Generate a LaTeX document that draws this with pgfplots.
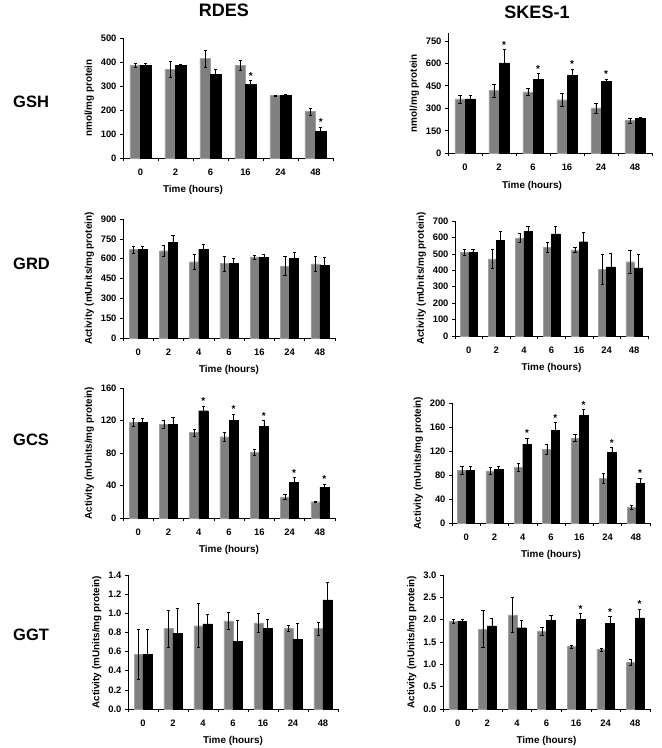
\documentclass[border=0pt]{standalone}
\usepackage{fontspec}
\setmainfont{Liberation Sans}
\usepackage{pgfplots}
\pgfplotsset{compat=1.18}
\definecolor{bargray}{RGB}{128,128,128}

\pgfplotsset{
  panel/.style={
    scale only axis, anchor=south west,
    ybar, ymin=0, xmin=-0.5,
    axis lines=left, axis line style={-, line width=0.7pt},
    tick align=outside, major tick length=3pt,
    tick style={black, line width=0.6pt},
    xticklabels={},
    extra x tick style={major tick length=0pt},
    tick label style={font=\bfseries\fontsize{9.4}{10}\selectfont},
    x tick label style={yshift=-7.5pt},
    /pgf/number format/assume math mode=true,
    label style={font=\bfseries\fontsize{9.9}{11}\selectfont},
    xlabel={Time (hours)},
    bar width=0.3, clip=false,
  },
  six/.style={xmax=5.5, xtick={-0.5,0.5,...,5.5},
    extra x ticks={0,...,5}, extra x tick labels={0,2,6,16,24,48}},
  seven/.style={xmax=6.5, xtick={-0.5,0.5,...,6.5},
    extra x ticks={0,...,6}, extra x tick labels={0,2,4,6,16,24,48}},
  errs/.style={error bars/.cd, y dir=both, y explicit,
    error bar style={black, line width=0.5pt},
    error mark options={rotate=90, mark size=1.6pt, black, line width=0.5pt}},
  graybar/.style={fill=bargray, draw=bargray!75, bar shift=-0.15, errs},
  blackbar/.style={fill=black, draw=black, bar shift=0.15, errs},
}
\tikzset{astr/.style={anchor=south, inner sep=1pt, font=\bfseries\fontsize{10}{10}\selectfont}}

\begin{document}
\begin{tikzpicture}
\path[use as bounding box] (0pt,0pt) rectangle (662pt,748pt);

\node[font=\bfseries\fontsize{18}{20}\selectfont] at (224pt,738pt) {RDES};
\node[font=\bfseries\fontsize{18}{20}\selectfont] at (537pt,735.5pt) {SKES-1};
\foreach \lab/\yy in {GSH/646, GRD/484, GCS/308, GGT/113}
  \node[anchor=west, inner sep=0pt, font=\bfseries\fontsize{16.5}{18}\selectfont] at (13pt,\yy pt) {\lab};

% GSH RDES
\begin{axis}[panel, six, at={(123pt,590pt)}, width=210pt, height=120pt,
  ymax=500, ytick={0,100,...,500}, ylabel={nmol/mg protein},
  xlabel style={xshift=-35pt}]
\addplot[graybar] coordinates {(0,385) +- (0,8) (1,370) +- (0,32) (2,415) +- (0,36)
  (3,387) +- (0,22) (4,260) +- (0,2) (5,193) +- (0,14)};
\addplot[blackbar] coordinates {(0,385) +- (0,8) (1,385) +- (0,7) (2,348) +- (0,20)
  (3,308) +- (0,15) (4,262) +- (0,2) (5,110) +- (0,20)};
\node[astr] at (axis cs:3.15,323) {*};
\node[astr] at (axis cs:5.15,130) {*};
\end{axis}

% GSH SKES-1
\begin{axis}[panel, six, at={(448pt,594.7pt)}, width=204pt, height=120pt,
  ymax=800, ytick={0,150,...,750}, ylabel={nmol/mg protein},
  xlabel style={xshift=-18pt}]
\addplot[graybar] coordinates {(0,362) +- (0,28) (1,418) +- (0,43) (2,410) +- (0,25)
  (3,357) +- (0,43) (4,302) +- (0,34) (5,218) +- (0,15)};
\addplot[blackbar] coordinates {(0,362) +- (0,26) (1,603) +- (0,89) (2,495) +- (0,38)
  (3,521) +- (0,41) (4,480) +- (0,15) (5,234) +- (0,4)};
\node[astr] at (axis cs:1.15,692) {*};
\node[astr] at (axis cs:2.15,533) {*};
\node[astr] at (axis cs:3.15,562) {*};
\node[astr] at (axis cs:4.15,495) {*};
\end{axis}

% GRD RDES
\begin{axis}[panel, seven, at={(123pt,410pt)}, width=212pt, height=119pt,
  ymax=900, ytick={0,150,...,900}, ylabel={Activity (mUnits/mg protein)}]
\addplot[graybar] coordinates {(0,668) +- (0,25) (1,660) +- (0,45) (2,577) +- (0,60)
  (3,562) +- (0,57) (4,613) +- (0,15) (5,545) +- (0,72) (6,560) +- (0,58)};
\addplot[blackbar] coordinates {(0,668) +- (0,25) (1,723) +- (0,52) (2,673) +- (0,38)
  (3,567) +- (0,38) (4,612) +- (0,25) (5,600) +- (0,48) (6,550) +- (0,62)};
\end{axis}

% GRD SKES-1
\begin{axis}[panel, seven, at={(455pt,412pt)}, width=193pt, height=115pt,
  ymax=700, ytick={0,100,...,700}, ylabel={Activity (mUnits/mg protein)}]
\addplot[graybar] coordinates {(0,511) +- (0,20) (1,470) +- (0,57) (2,598) +- (0,25)
  (3,539) +- (0,30) (4,525) +- (0,17) (5,407) +- (0,90) (6,452) +- (0,68)};
\addplot[blackbar] coordinates {(0,511) +- (0,20) (1,584) +- (0,55) (2,637) +- (0,30)
  (3,621) +- (0,45) (4,574) +- (0,55) (5,421) +- (0,82) (6,415) +- (0,85)};
\end{axis}

% GCS RDES
\begin{axis}[panel, seven, at={(123pt,230pt)}, width=212pt, height=130pt,
  ymax=160, ytick={0,40,...,160}, ylabel={Activity (mUnits/mg protein)}]
\addplot[graybar] coordinates {(0,118) +- (0,4.5) (1,115) +- (0,5) (2,105) +- (0,4.5)
  (3,100) +- (0,5) (4,81) +- (0,4) (5,26) +- (0,3) (6,20) +- (0,1)};
\addplot[blackbar] coordinates {(0,118) +- (0,4.5) (1,115) +- (0,9) (2,132) +- (0,6)
  (3,120) +- (0,8) (4,112.5) +- (0,7.5) (5,44) +- (0,6) (6,38) +- (0,4)};
\node[astr] at (axis cs:2.15,138) {*};
\node[astr] at (axis cs:3.15,128) {*};
\node[astr] at (axis cs:4.15,120) {*};
\node[astr] at (axis cs:5.15,50) {*};
\node[astr] at (axis cs:6.15,42) {*};
\end{axis}

% GCS SKES-1
\begin{axis}[panel, seven, at={(452pt,225pt)}, width=198pt, height=120pt,
  ymax=200, ytick={0,40,...,200}, ylabel={Activity (mUnits/mg protein)}]
\addplot[graybar] coordinates {(0,88) +- (0,6) (1,87) +- (0,6) (2,93) +- (0,7)
  (3,123) +- (0,8) (4,142) +- (0,6) (5,75) +- (0,8) (6,26) +- (0,3)};
\addplot[blackbar] coordinates {(0,88) +- (0,6) (1,90) +- (0,4) (2,131) +- (0,11)
  (3,155) +- (0,13) (4,180) +- (0,9) (5,118) +- (0,8) (6,66) +- (0,9)};
\node[astr] at (axis cs:2.15,142) {*};
\node[astr] at (axis cs:3.15,168) {*};
\node[astr] at (axis cs:4.15,189) {*};
\node[astr] at (axis cs:5.15,126) {*};
\node[astr] at (axis cs:6.15,75) {*};
\end{axis}

% GGT RDES
\begin{axis}[panel, seven, at={(128pt,39pt)}, width=210pt, height=134pt,
  ymax=1.4, ytick={0,0.2,0.4,0.6,0.8,1.0,1.2,1.4},
  yticklabel style={/pgf/number format/.cd, fixed, fixed zerofill, precision=1},
  ylabel={Activity (mUnits/mg protein)}]
\addplot[graybar] coordinates {(0,0.57) +- (0,0.26) (1,0.84) +- (0,0.19) (2,0.87) +- (0,0.23)
  (3,0.92) +- (0,0.09) (4,0.90) +- (0,0.10) (5,0.84) +- (0,0.03) (6,0.84) +- (0,0.07)};
\addplot[blackbar] coordinates {(0,0.57) +- (0,0.26) (1,0.79) +- (0,0.26) (2,0.89) +- (0,0.10)
  (3,0.71) +- (0,0.22) (4,0.84) +- (0,0.10) (5,0.73) +- (0,0.17) (6,1.14) +- (0,0.18)};
\end{axis}

% GGT SKES-1
\begin{axis}[panel, seven, at={(443pt,39pt)}, width=207pt, height=134pt,
  ymax=3.0, ytick={0,0.5,1.0,1.5,2.0,2.5,3.0},
  yticklabel style={/pgf/number format/.cd, fixed, fixed zerofill, precision=1},
  ylabel={Activity (mUnits/mg protein)}]
\addplot[graybar] coordinates {(0,1.97) +- (0,0.05) (1,1.79) +- (0,0.41) (2,2.11) +- (0,0.39)
  (3,1.75) +- (0,0.09) (4,1.40) +- (0,0.03) (5,1.33) +- (0,0.03) (6,1.05) +- (0,0.07)};
\addplot[blackbar] coordinates {(0,1.97) +- (0,0.05) (1,1.86) +- (0,0.17) (2,1.82) +- (0,0.17)
  (3,1.98) +- (0,0.12) (4,2.00) +- (0,0.14) (5,1.91) +- (0,0.16) (6,2.04) +- (0,0.20)};
\node[astr] at (axis cs:4.15,2.14) {*};
\node[astr] at (axis cs:5.15,2.07) {*};
\node[astr] at (axis cs:6.15,2.24) {*};
\end{axis}
\end{tikzpicture}
\end{document}
